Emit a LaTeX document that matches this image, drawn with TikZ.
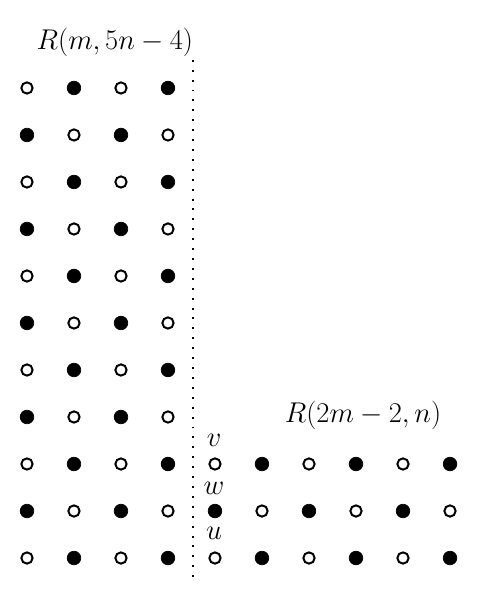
\documentclass[tikz,border=0pt]{standalone}
\usepackage{amsmath,amssymb}
\usepackage{tikz}
\usetikzlibrary{calc}

\begin{document}
\begin{tikzpicture}[
    opendot/.style={draw, circle, line width=1.2pt, fill=white, minimum size=0.24cm, inner sep=0pt},
    fulldot/.style={draw, circle, fill=black, minimum size=0.29cm, inner sep=0pt},
    lbl/.style={font=\fontsize{18.5}{22}\selectfont, inner sep=1pt},
    sep/.style={line width=1.2pt, dash pattern=on 1.2pt off 4.8pt}
]
\useasboundingbox (-0.574,-0.936) rectangle (9.617,11.872);
% left block R(m,5n-4)
\foreach \i in {0,...,10}{
  \foreach \j in {0,...,3}{
    \pgfmathtruncatemacro{\parity}{mod(\i+\j,2)}
    \ifnum\parity=0
      \node[opendot] (l-\i-\j) at (\j,\i) {};
    \else
      \node[fulldot] (l-\i-\j) at (\j,\i) {};
    \fi
  }
}
% right block R(2m-2,n)
\foreach \i in {0,...,2}{
  \foreach \j in {4,...,9}{
    \pgfmathtruncatemacro{\parity}{mod(\i+\j,2)}
    \ifnum\parity=0
      \node[opendot] (r-\i-\j) at (\j,\i) {};
    \else
      \node[fulldot] (r-\i-\j) at (\j,\i) {};
    \fi
  }
}
\coordinate (top) at (3.53,10.6);
\coordinate (bot) at (3.53,-0.47);
\draw[sep] (top) -- (bot);

\node[lbl] (left) at (1.87,10.98) {$R(m,5n-4)$};
\node[lbl] (right) at (7.15,3.04) {$R(2m-2,n)$};
\node[lbl] (v) at (3.98,2.51) {$v$};
\node[lbl] (w) at (3.98,1.49) {$w$};
\node[lbl] (u) at (3.98,0.53) {$u$};
\end{tikzpicture}
\end{document}
